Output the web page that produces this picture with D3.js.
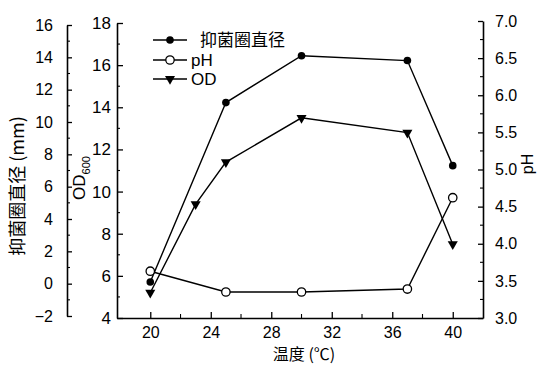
<!DOCTYPE html>
<html>
<head>
<meta charset="utf-8">
<script src="https://cdn.jsdelivr.net/npm/d3@7/dist/d3.min.js"></script>
<style>
  html, body { margin: 0; padding: 0; background: #fff; }
  svg { display: block; }
  text { fill: #000; }
</style>
</head>
<body>
<svg id="chart" width="539" height="365"></svg>
<script>
// Temperature (°C) of each sample
const temps = [20, 25, 30, 37, 40];
// Inhibition zone diameter (mm)
const diameter = [0.1, 11.2, 14.1, 13.8, 7.3];
// Culture pH
const phValues = [3.63, 3.35, 3.35, 3.39, 4.62];
// OD600 is sampled at one extra temperature
const odTemps = [20, 23, 25, 30, 37, 40];
const odValues = [5.2, 9.4, 11.4, 13.5, 12.8, 7.5];

const xTicks = [20, 24, 28, 32, 36, 40];
const mmTicks = [-2, 0, 2, 4, 6, 8, 10, 12, 14, 16];
const odTicks = [4, 6, 8, 10, 12, 14, 16, 18];
const phTicks = [3.0, 3.5, 4.0, 4.5, 5.0, 5.5, 6.0, 6.5, 7.0];

const legendItems = [
  { label: "抑菌圈直径", marker: "filled" },
  { label: "pH", marker: "open" },
  { label: "OD", marker: "tri" }
];

const svg = d3.select("#chart");
const numFont = "'Liberation Sans', Arial, sans-serif";
const cjkFont = "'Noto Sans CJK SC', 'Liberation Sans', sans-serif";

const x = d3.scaleLinear().domain([17.8, 42]).range([117, 483]);
const yMm = d3.scaleLinear().domain([-2, 16]).range([316, 25]);
const yOd = d3.scaleLinear().domain([4, 18]).range([318, 23]);
const yPh = d3.scaleLinear().domain([3, 7]).range([318, 21]);

function styleAxis(g) {
  g.select(".domain").attr("stroke", "#000").attr("stroke-width", 1.6);
  g.selectAll(".tick line").attr("stroke", "#000").attr("stroke-width", 1.3);
  g.selectAll(".tick text")
    .attr("font-family", numFont).attr("font-size", 16)
    .attr("fill", "#000");
}

// X axis (ticks point inward / upward)
const gx = svg.append("g").attr("transform", "translate(0,318)")
  .call(d3.axisBottom(x).tickValues(xTicks).tickSize(-6).tickSizeOuter(0).tickPadding(9).tickFormat(d3.format("d")));
styleAxis(gx);
svg.append("g").selectAll("line").data([22, 26, 30, 34, 38]).enter().append("line")
  .attr("x1", d => x(d)).attr("x2", d => x(d)).attr("y1", 318).attr("y2", 314)
  .attr("stroke", "#000").attr("stroke-width", 1.1);

// Outer left axis: inhibition zone diameter
const gMm = svg.append("g").attr("transform", "translate(67,0)")
  .call(d3.axisLeft(yMm).tickValues(mmTicks).tickSize(-5).tickSizeOuter(0).tickPadding(14).tickFormat(d => d < 0 ? "\u2212" + Math.abs(d) : d));
styleAxis(gMm);
svg.append("g").selectAll("line").data(d3.range(-1, 16, 2)).enter().append("line")
  .attr("x1", 67).attr("x2", 70).attr("y1", d => yMm(d)).attr("y2", d => yMm(d))
  .attr("stroke", "#000").attr("stroke-width", 1.1);

// Inner left axis: OD600
const gOd = svg.append("g").attr("transform", "translate(117,0)")
  .call(d3.axisLeft(yOd).tickValues(odTicks).tickSize(-6).tickSizeOuter(0).tickPadding(6).tickFormat(d3.format("d")));
styleAxis(gOd);
gOd.selectAll(".tick text").attr("font-size", 17);
svg.append("g").selectAll("line").data(d3.range(5, 18, 2)).enter().append("line")
  .attr("x1", 117).attr("x2", 120).attr("y1", d => yOd(d)).attr("y2", d => yOd(d))
  .attr("stroke", "#000").attr("stroke-width", 1.1);

// Right axis: pH
const gPh = svg.append("g").attr("transform", "translate(483,0)")
  .call(d3.axisRight(yPh).tickValues(phTicks).tickSize(-5).tickSizeOuter(0).tickPadding(12).tickFormat(d3.format(".1f")));
styleAxis(gPh);
svg.append("g").selectAll("line").data(d3.range(3.25, 7, 0.5)).enter().append("line")
  .attr("x1", 483).attr("x2", 480).attr("y1", d => yPh(d)).attr("y2", d => yPh(d))
  .attr("stroke", "#000").attr("stroke-width", 1.1);

// Axis titles
svg.append("text")
  .attr("transform", "translate(24,186) rotate(-90)")
  .attr("text-anchor", "middle").attr("font-family", cjkFont).attr("font-size", 18)
  .text("抑菌圈直径 (mm)");

const odTitle = svg.append("text")
  .attr("transform", "translate(85,178) rotate(-90)")
  .attr("text-anchor", "middle").attr("font-family", numFont).attr("font-size", 17);
odTitle.append("tspan").text("OD");
odTitle.append("tspan").attr("font-size", 11).attr("dy", 5).text("600");

svg.append("text")
  .attr("transform", "translate(533,164) rotate(-90)")
  .attr("text-anchor", "middle").attr("font-family", numFont).attr("font-size", 16)
  .text("pH");

svg.append("text")
  .attr("x", 304).attr("y", 360)
  .attr("text-anchor", "middle").attr("font-family", cjkFont).attr("font-size", 16)
  .text("温度 (℃)");

// Series lines
const lineStyle = sel => sel.attr("fill", "none").attr("stroke", "#000").attr("stroke-width", 1.4);

const mmPts = temps.map((t, i) => [x(t), yMm(diameter[i])]);
const phPts = temps.map((t, i) => [x(t), yPh(phValues[i])]);
const odPts = odTemps.map((t, i) => [x(t), yOd(odValues[i])]);

svg.append("path").attr("d", d3.line()(mmPts)).call(lineStyle);
svg.append("path").attr("d", d3.line()(phPts)).call(lineStyle);
svg.append("path").attr("d", d3.line()(odPts)).call(lineStyle);

const triPath = d3.symbol().type(d3.symbolTriangle).size(44)();

function drawMarker(g, kind, cx, cy) {
  if (kind === "filled") {
    g.append("circle").attr("cx", cx).attr("cy", cy).attr("r", 3.8).attr("fill", "#000");
  } else if (kind === "open") {
    g.append("circle").attr("cx", cx).attr("cy", cy).attr("r", 4.2)
      .attr("fill", "#fff").attr("stroke", "#000").attr("stroke-width", 1.3);
  } else {
    g.append("path").attr("d", triPath)
      .attr("transform", `translate(${cx},${cy}) rotate(180)`).attr("fill", "#000");
  }
}

const marks = svg.append("g");
mmPts.forEach(p => drawMarker(marks, "filled", p[0], p[1]));
phPts.forEach(p => drawMarker(marks, "open", p[0], p[1]));
odPts.forEach(p => drawMarker(marks, "tri", p[0], p[1]));

// Legend
const legendY = [40, 60, 79];
const legendTextX = [200, 191, 191];
const legend = svg.append("g");
legendItems.forEach((item, i) => {
  legend.append("line").attr("x1", 153).attr("x2", 187)
    .attr("y1", legendY[i]).attr("y2", legendY[i]).attr("stroke", "#000").attr("stroke-width", 1.3);
  drawMarker(legend, item.marker, 170, legendY[i]);
  legend.append("text").attr("x", legendTextX[i]).attr("y", legendY[i]).attr("dy", "0.35em")
    .attr("font-family", i === 0 ? cjkFont : numFont).attr("font-size", 17)
    .text(item.label);
});
</script>
</body>
</html>
